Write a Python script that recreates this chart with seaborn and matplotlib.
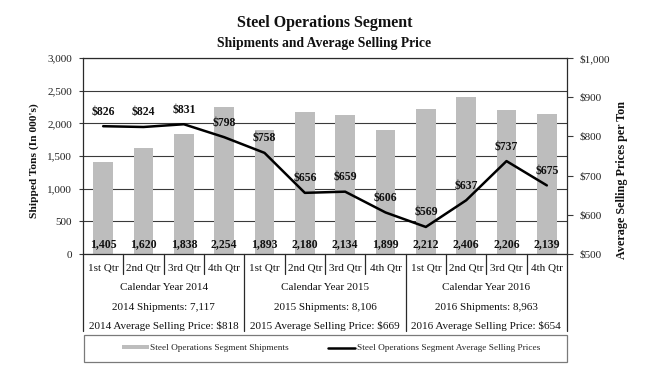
import matplotlib
matplotlib.use("Agg")
import matplotlib.pyplot as plt
import seaborn as sns
import numpy as np
import pandas as pd
from matplotlib.patches import Patch, Rectangle
from matplotlib.lines import Line2D
from matplotlib.ticker import FuncFormatter, MultipleLocator

# ---- data ----
years = ["2014", "2015", "2016"]
quarters = ["1st Qtr", "2nd Qtr", "3rd Qtr", "4th Qtr"]
shipments = [1405, 1620, 1838, 2254, 1893, 2180, 2134, 1899, 2212, 2406, 2206, 2139]
prices = [826, 824, 831, 798, 758, 656, 659, 606, 569, 637, 737, 675]
year_totals = ["7,117", "8,106", "8,963"]
year_avg_price = ["$818", "$669", "$654"]

sns.set_theme(style="white")
plt.rcParams['font.family'] = ['Liberation Serif', 'DejaVu Serif']

period = [f"{y} {q}" for y in years for q in quarters]
df = pd.DataFrame({
    "period": period,
    "quarter": [q for y in years for q in quarters],
    "shipments": shipments,
    "price": prices,
})
df["pos"] = np.arange(len(df))

W, H = 657, 373
fig = plt.figure(figsize=(W / 100, H / 100), dpi=100)
x0, x1, ytop, ybot = 83, 567, 58, 254
ax = fig.add_axes([x0 / W, 1 - ybot / H, (x1 - x0) / W, (ybot - ytop) / H])

sns.barplot(data=df, x="period", y="shipments", ax=ax, color="#BDBDBD",
            width=0.48, saturation=1, edgecolor="none")
ax.set_ylim(0, 3000)
ax.set_xlim(-0.5, len(df) - 0.5)
ax.yaxis.set_major_locator(MultipleLocator(500))
ax.yaxis.set_major_formatter(FuncFormatter(lambda v, p: f"{int(v):,}"))
ax.grid(axis="y", color="#3a3a3a", lw=0.8)
ax.set_axisbelow(True)
ax.set_xticks([])
ax.set_xlabel("")
ax.set_ylabel("")
ax.tick_params(axis="y", which="major", left=True, length=3, width=0.8,
               color="#3a3a3a", labelsize=8, pad=5, labelcolor="#222222")
for s in ax.spines.values():
    s.set_color("#2a2a2a")
    s.set_linewidth(0.9)

# bar value labels
tr = ax.get_xaxis_transform()
for i, v in enumerate(df["shipments"]):
    ax.text(i, 0.052, f"{v:,}", transform=tr, ha="center", va="center",
            fontsize=8.5, fontweight="bold", color="#111111")

# price line on twin axis
ax2 = ax.twinx()
sns.lineplot(data=df, x="pos", y="price", ax=ax2, color="black", lw=1.8)
ax2.set_ylim(500, 1000)
ax2.set_xlim(-0.5, len(df) - 0.5)
ax2.yaxis.set_major_locator(MultipleLocator(100))
ax2.yaxis.set_major_formatter(FuncFormatter(lambda v, p: f"${int(v):,}"))
ax2.tick_params(axis="y", right=True, length=4, width=0.8, color="#3a3a3a",
                labelsize=8, pad=5, labelcolor="#222222")
ax2.set_ylabel("")
ax2.set_xlabel("")
ax2.grid(False)
for s in ax2.spines.values():
    s.set_visible(False)
for i, p in enumerate(df["price"]):
    ax2.annotate(f"${p}", (i, p), xytext=(0, 10.5), textcoords="offset points",
                 ha="center", va="center", fontsize=8.5, fontweight="bold",
                 color="#111111")

# ---- table under the axis ----
def yfrac(py):
    return -(py - ybot) / (ybot - ytop)

line_kw = dict(color="#2a2a2a", lw=0.9, clip_on=False, transform=tr)
for i in range(len(df)):
    ax.text(i, yfrac(268), df["quarter"][i], transform=tr, ha="center",
            va="center", fontsize=8, color="#111111")
for b in range(1, len(df)):
    if b % 4 == 0:
        continue
    ax.plot([b - 0.5, b - 0.5], [0, yfrac(274)], **line_kw)
for b in range(0, len(df) + 1, 4):
    ax.plot([b - 0.5, b - 0.5], [0, yfrac(331)], **line_kw)
for k, y in enumerate(years):
    cx = 4 * k + 1.5
    ax.text(cx, yfrac(287), f"Calendar Year {y}", transform=tr, ha="center",
            va="center", fontsize=8, color="#111111")
    ax.text(cx, yfrac(307), f"{y} Shipments: {year_totals[k]}", transform=tr,
            ha="center", va="center", fontsize=8, color="#111111")
    ax.text(cx, yfrac(326), f"{y} Average Selling Price: {year_avg_price[k]}",
            transform=tr, ha="center", va="center", fontsize=8, color="#111111")

# ---- titles and axis labels ----
fig.text(0.495, 1 - 23 / H, "Steel Operations Segment", ha="center", va="center",
         fontsize=11.5, fontweight="bold", color="#111111")
fig.text(0.493, 1 - 43 / H, "Shipments and Average Selling Price", ha="center",
         va="center", fontsize=9.8, fontweight="bold", color="#111111")
fig.text(34 / W, 1 - 161 / H, "Shipped Tons (In 000's)", rotation=90,
         ha="center", va="center", fontsize=8.2, fontweight="bold", color="#111111")
fig.text(622 / W, 1 - 180 / H, "Average Selling Prices per Ton", rotation=90,
         ha="center", va="center", fontsize=8.7, fontweight="bold", color="#111111")

# ---- legend ----
lx0, lx1, ly0, ly1 = 84, 567, 335, 362
fig.patches.append(Rectangle((lx0 / W, 1 - ly1 / H), (lx1 - lx0) / W, (ly1 - ly0) / H,
                             transform=fig.transFigure, fill=False,
                             edgecolor="#7a7a7a", lw=0.9))
handles = [Patch(facecolor="#BDBDBD", edgecolor="none"),
           Line2D([0], [0], color="black", lw=1.8)]
labels = ["Steel Operations Segment Shipments",
          "Steel Operations Segment Average Selling Prices"]
fig.legend(handles, labels, loc="center", bbox_to_anchor=(331 / W, 1 - 348.5 / H),
           ncol=2, frameon=False, fontsize=6.7, handlelength=2.9, handleheight=0.35,
           handletextpad=0.2, columnspacing=4.2)

fig.savefig("out.png", dpi=100, facecolor="white")
